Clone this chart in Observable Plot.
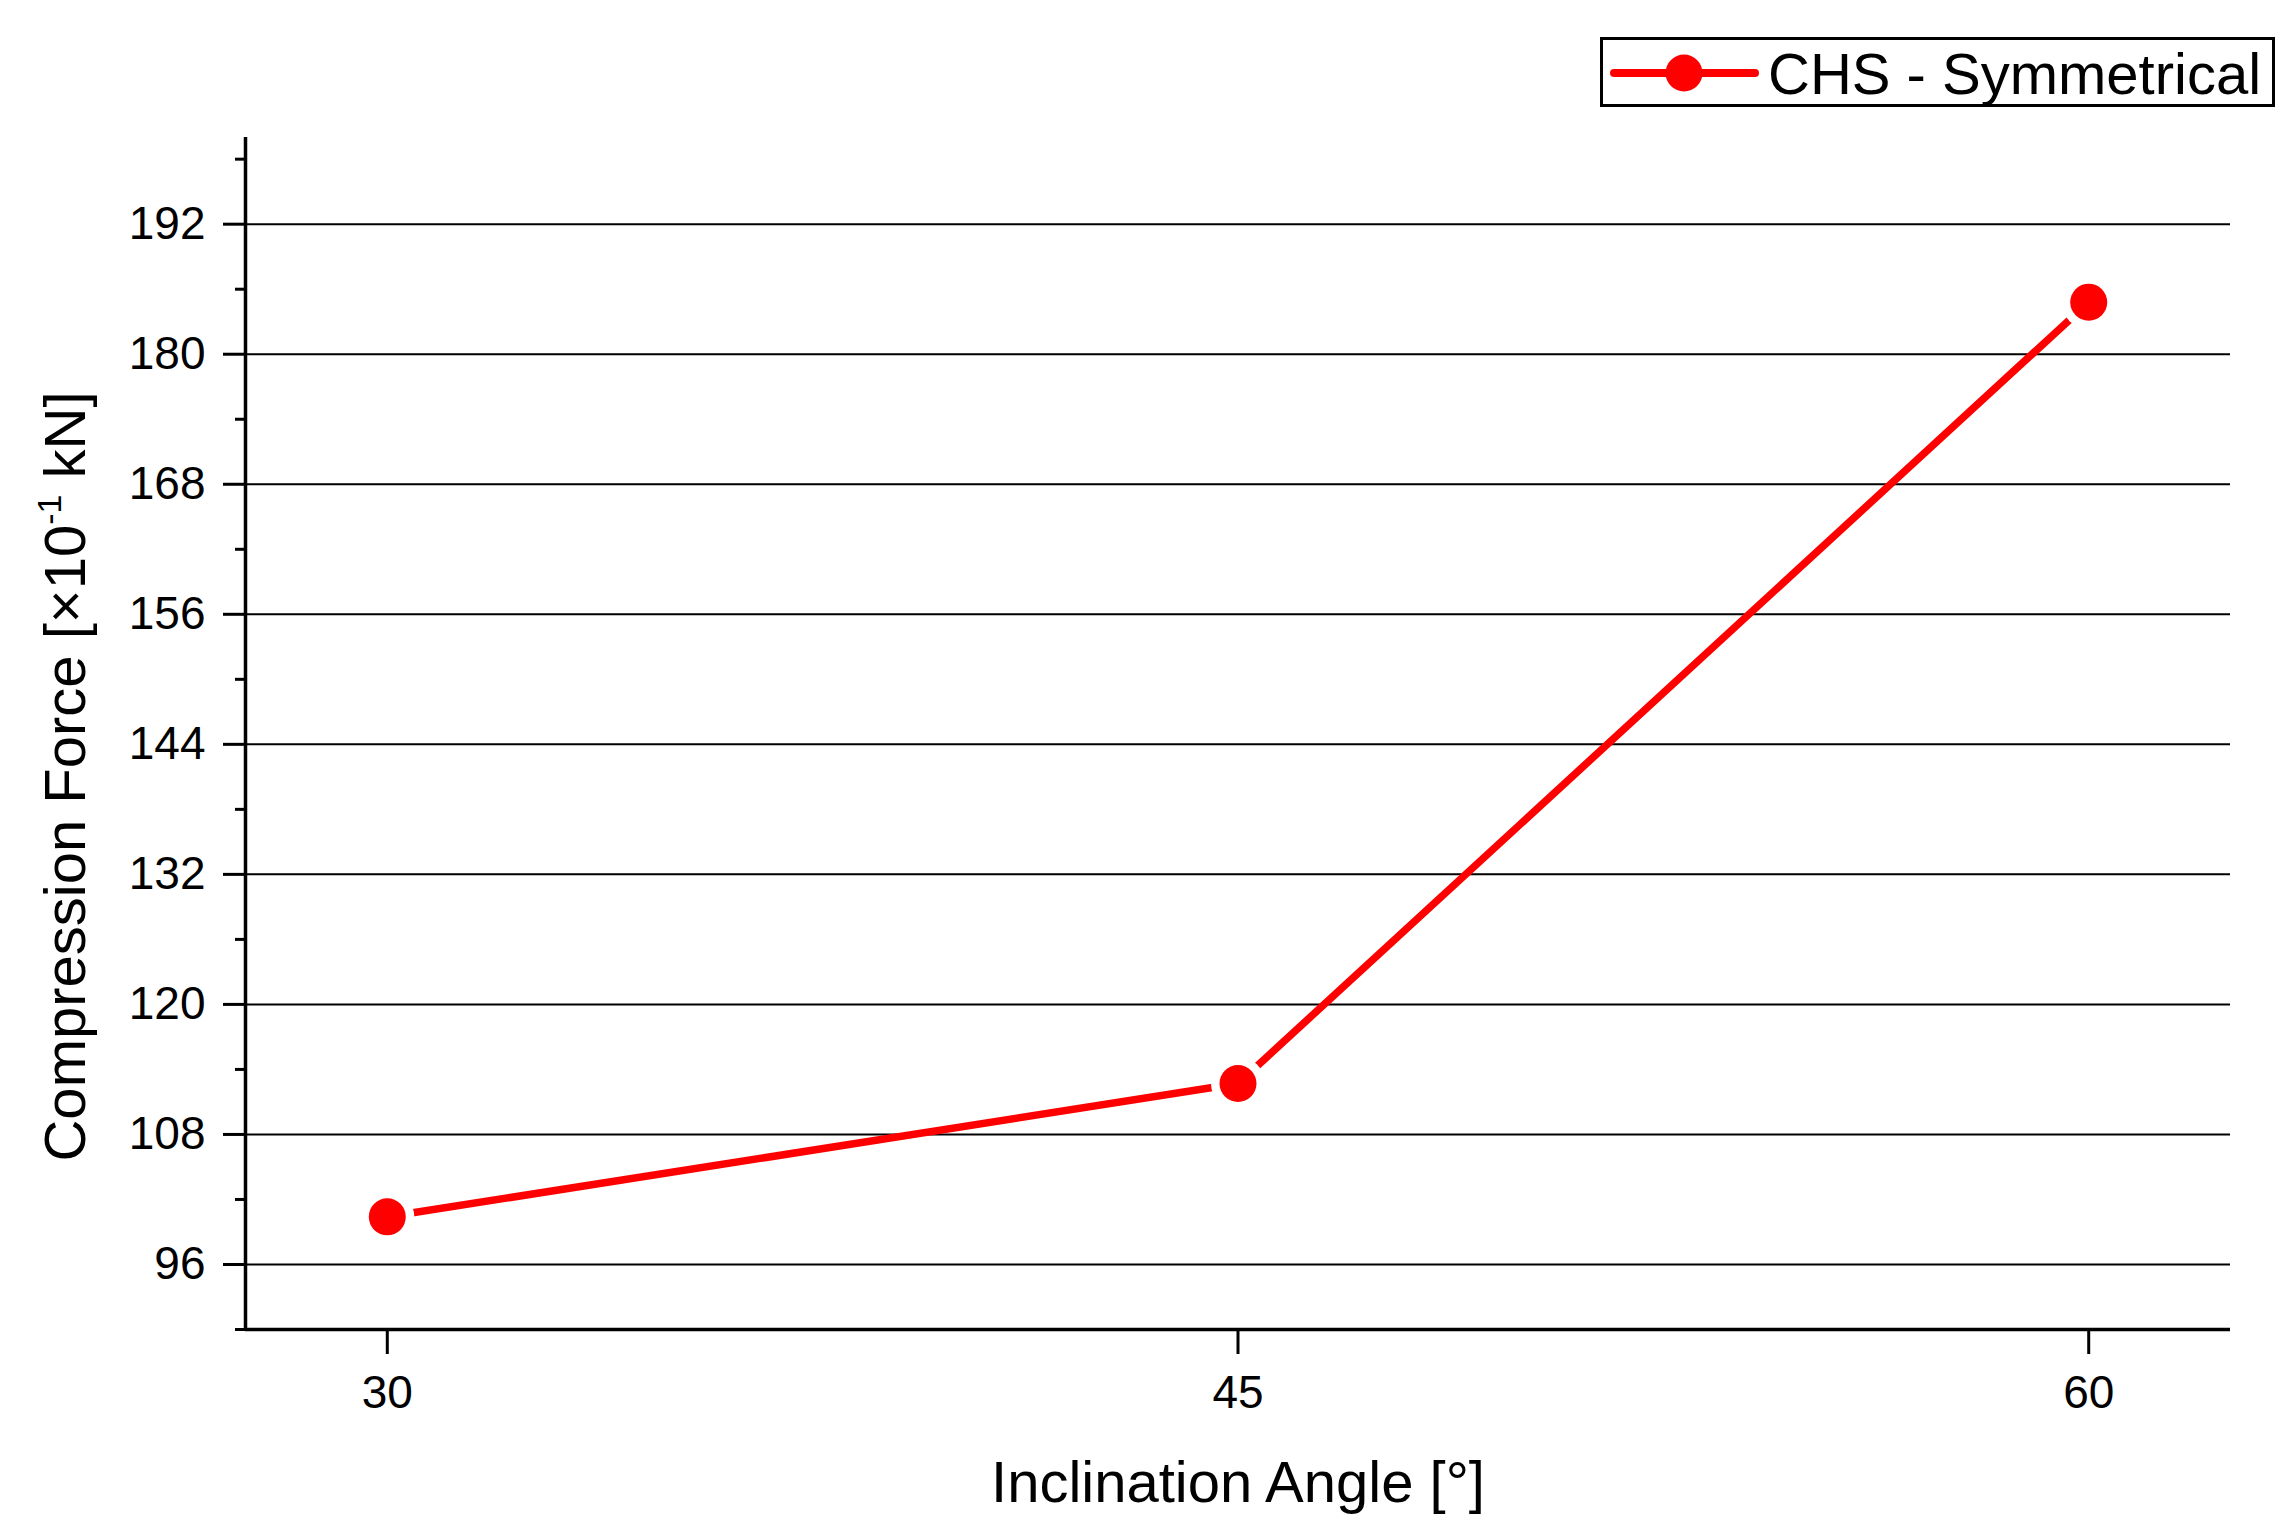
<!DOCTYPE html>
<html><head><meta charset="utf-8">
<script src="https://cdn.jsdelivr.net/npm/d3@7"></script>
<script src="https://cdn.jsdelivr.net/npm/@observablehq/plot@0.6"></script>
<style>
html,body{margin:0;padding:0;background:#fff;}
#wrap{position:relative;width:2291px;height:1528px;font-family:"Liberation Sans",Arial,sans-serif;}
</style></head><body><div id="wrap"></div>
<script>
const angles = [30, 45, 60];
const forces = [100.4, 112.7, 184.8];
const seriesName = "CHS - Symmetrical";
const seriesColor = "#ff0000";
const xTicks = [30, 45, 60];
const yMajorTicks = [96, 108, 120, 132, 144, 156, 168, 180, 192];
const yMinorTicks = [90, 102, 114, 126, 138, 150, 162, 174, 186, 198];
const xDomain = [27.5, 62.5];
const yDomain = [90, 200];
const xLabel = "Inclination Angle [°]";
const yLabelMain = "Compression Force [×10";
const yLabelSup = "-1";
const yLabelEnd = " kN]";

const data = angles.map((a, i) => ({angle: a, force: forces[i]}));
const yLabelFull = yLabelMain + yLabelSup + yLabelEnd;

const chart = Plot.plot({
  width: 2291, height: 1528,
  marginLeft: 245, marginRight: 61, marginTop: 137, marginBottom: 199,
  style: {fontFamily: "'Liberation Sans', Arial, sans-serif", background: "white", color: "black"},
  x: {domain: xDomain},
  y: {domain: yDomain},
  marks: [
    Plot.gridY(yMajorTicks, {stroke: "black", strokeOpacity: 1, strokeWidth: 2}),
    Plot.axisY(yMinorTicks, {tickSize: 10, strokeWidth: 3, tickFormat: () => "", label: null}),
    Plot.axisY(yMajorTicks, {tickSize: 22, tickPadding: 18, strokeWidth: 3, fontSize: 46, label: null}),
    Plot.axisX(xTicks, {tickSize: 25, tickPadding: 21, strokeWidth: 3, fontSize: 46, label: null}),
    Plot.ruleX([xDomain[0]], {strokeWidth: 3.5}),
    Plot.ruleY([yDomain[0]], {strokeWidth: 3.5}),
    Plot.line(data, {x: "angle", y: "force", stroke: seriesColor, strokeWidth: 7.5, strokeLinecap: "butt"}),
    Plot.dot(data, {x: "angle", y: "force", r: 27, fill: "white", stroke: "none"}),
    Plot.dot(data, {x: "angle", y: "force", r: 18.5, fill: seriesColor, stroke: "none"}),
    Plot.text([xLabel], {frameAnchor: "bottom", dy: 154, fontSize: 58, lineAnchor: "middle"}),
    Plot.text([yLabelFull], {frameAnchor: "left", textAnchor: "middle", dx: -179, dy: 43, rotate: -90, fontSize: 58, lineAnchor: "middle"})
  ]
});

d3.select(chart).selectAll("text").each(function() {
  if (this.textContent === yLabelFull) {
    const t = d3.select(this);
    t.text(null);
    t.append("tspan").text(yLabelMain);
    t.append("tspan").attr("font-size", 34).attr("dy", -24).text(yLabelSup);
    t.append("tspan").attr("dy", 24).text(yLabelEnd);
  }
});

const wrap = document.getElementById("wrap");
wrap.appendChild(chart);

const leg = d3.select(wrap).append("svg")
  .attr("width", 675).attr("height", 70)
  .style("position", "absolute").style("left", "1600px").style("top", "37px")
  .style("font-family", "'Liberation Sans', Arial, sans-serif");
leg.append("rect").attr("x", 1.5).attr("y", 1.5).attr("width", 672).attr("height", 67)
  .attr("fill", "white").attr("stroke", "black").attr("stroke-width", 3);
leg.append("line").attr("x1", 14).attr("x2", 155).attr("y1", 36).attr("y2", 36)
  .attr("stroke", seriesColor).attr("stroke-width", 8).attr("stroke-linecap", "round");
leg.append("circle").attr("cx", 84).attr("cy", 36).attr("r", 18.5).attr("fill", seriesColor);
leg.append("text").attr("x", 168).attr("y", 57).attr("font-size", 58).attr("fill", "black").text(seriesName);
</script>
</body></html>
